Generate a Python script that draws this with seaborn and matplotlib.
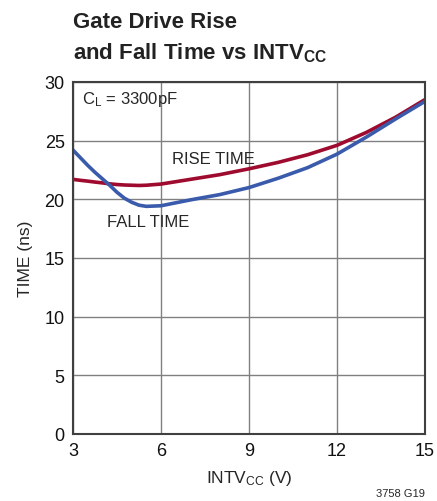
import matplotlib
matplotlib.use('Agg')
import matplotlib.pyplot as plt
import seaborn as sns
import pandas as pd

# values
intvcc = [3, 3.25, 3.5, 3.75, 4, 4.25, 4.5, 4.75, 5, 5.25, 5.5, 6, 7, 8, 9, 10, 11, 12, 13, 14, 15]
rise_time = [21.7, 21.62, 21.55, 21.47, 21.4, 21.32, 21.26, 21.22, 21.2, 21.18, 21.2, 21.3, 21.7, 22.1, 22.6,
             23.15, 23.8, 24.6, 25.7, 27.0, 28.5]
fall_time = [24.2, 23.55, 22.9, 22.3, 21.75, 21.2, 20.6, 20.1, 19.75, 19.5, 19.4, 19.45, 19.95, 20.4, 21.0,
             21.8, 22.7, 23.85, 25.3, 26.85, 28.35]
x_ticks = [3, 6, 9, 12, 15]
y_ticks = [0, 5, 10, 15, 20, 25, 30]

RED = '#9e0b2e'
BLUE = '#3a5bab'

sns.set_style('white')
plt.rcParams['font.family'] = ['Liberation Sans', 'DejaVu Sans']

df = pd.DataFrame({'intvcc': intvcc, 'rise': rise_time, 'fall': fall_time})

fig = plt.figure(figsize=(4.37, 5.02), dpi=100)
ax = fig.add_axes([0.167, 0.1335, 0.8055, 0.7012])

sns.lineplot(data=df, x='intvcc', y='rise', color=RED, lw=2.6, ax=ax)
sns.lineplot(data=df, x='intvcc', y='fall', color=BLUE, lw=2.6, ax=ax)

ax.set_xlim(3, 15)
ax.set_ylim(0, 30)
ax.set_xticks(x_ticks)
ax.set_yticks(y_ticks)
ax.tick_params(length=0, labelsize=13, colors='#111111', pad=6)
ax.grid(True, color='#808080', lw=1)
for s in ax.spines.values():
    s.set_color('#404040')
    s.set_linewidth(1.5)

ax.set_xlabel(r'INTV$\mathregular{_{CC}}$ (V)', fontsize=12.5, labelpad=6)
ax.set_ylabel('TIME (ns)', fontsize=12.5, labelpad=8)

ax.text(3.3, 28.6, r'C$\mathregular{_L}$ = 3300pF', fontsize=12, va='center')
ax.text(7.8, 23.5, 'RISE TIME', fontsize=12, ha='center', va='center')
ax.text(5.57, 18.1, 'FALL TIME', fontsize=12, ha='center', va='center')

fig.text(0.167, 0.955, 'Gate Drive Rise', fontsize=16, fontweight='bold', va='center', color='#222222')
fig.text(0.167, 0.895, r'and Fall Time vs INTV$\mathregular{_{CC}}$', fontsize=16, fontweight='bold',
         va='center', color='#222222')
fig.text(0.972, 0.016, '3758 G19', fontsize=8, ha='right', va='center')

fig.savefig('out.png', dpi=100)
